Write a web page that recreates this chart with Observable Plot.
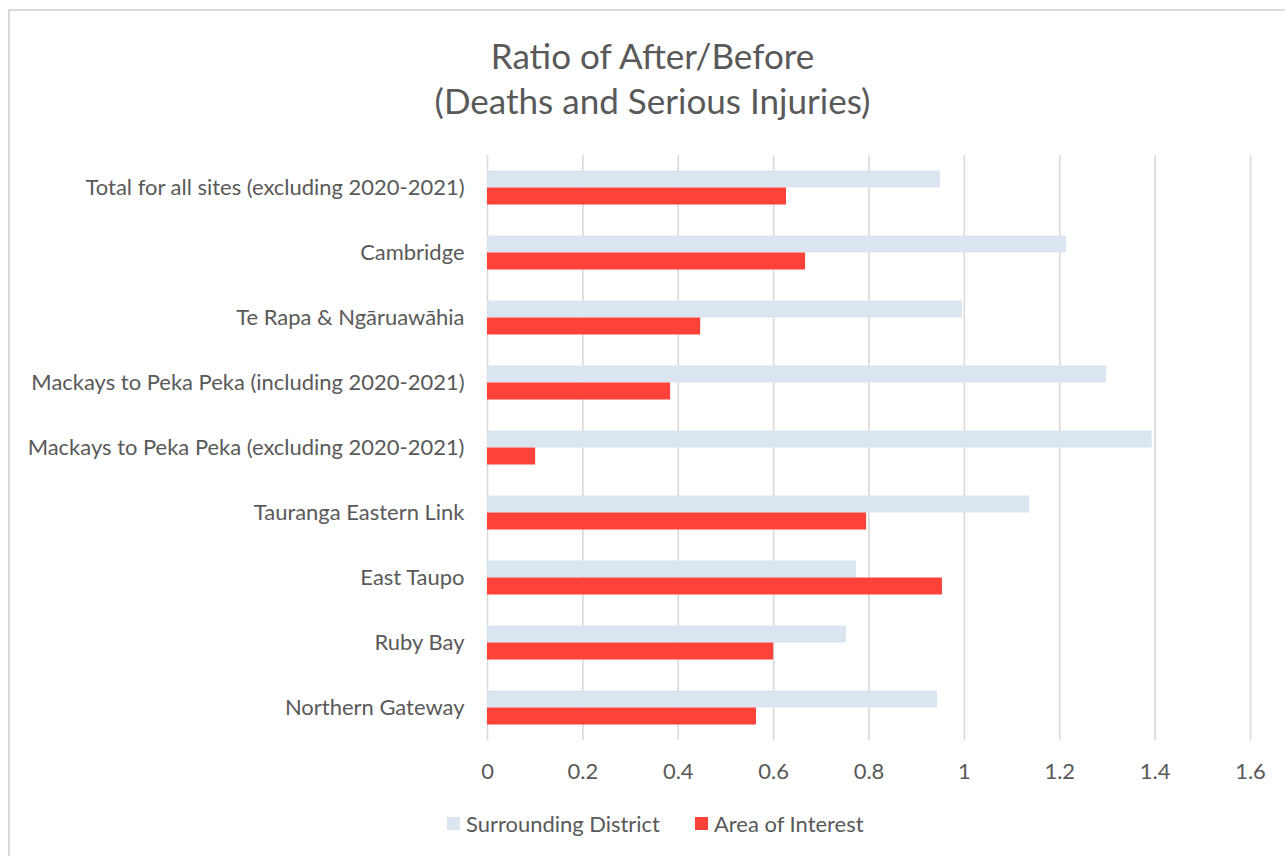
<!DOCTYPE html>
<html><head><meta charset="utf-8">
<script src="https://cdn.jsdelivr.net/npm/d3@7"></script>
<script src="https://cdn.jsdelivr.net/npm/@observablehq/plot@0.6"></script>
<style>
html,body{margin:0;padding:0;background:#fff;overflow:hidden;width:1285px;height:856px;}
#wrap{position:relative;width:1285px;height:856px;font-family:Lato,sans-serif;color:#595959;overflow:hidden;}
#frame{position:absolute;left:8px;top:9px;width:1320px;height:900px;border:2px solid #d9d9d9;box-sizing:border-box;}
#chart{position:absolute;left:0;top:0;}
#title{position:absolute;left:9px;width:1287px;top:33px;text-align:center;line-height:45px;}
#legend{position:absolute;left:0;top:810px;width:1285px;height:26px;}
.li{position:absolute;top:0;height:26px;display:flex;align-items:center;white-space:nowrap;}
.sw{width:13px;height:13px;margin-right:6px;display:inline-block;}
</style></head>
<body><div id="wrap"><div id="frame"></div><div id="chart"></div><div id="title"></div><div id="legend"></div></div>
<script>
const categories = [
  "Total for all sites (excluding 2020-2021)",
  "Cambridge",
  "Te Rapa & Ngāruawāhia",
  "Mackays to Peka Peka (including 2020-2021)",
  "Mackays to Peka Peka (excluding 2020-2021)",
  "Tauranga Eastern Link",
  "East Taupo",
  "Ruby Bay",
  "Northern Gateway"
];
const surroundingDistrict = [0.950, 1.214, 0.996, 1.298, 1.394, 1.137, 0.774, 0.753, 0.944];
const areaOfInterest      = [0.627, 0.667, 0.447, 0.384, 0.101, 0.795, 0.954, 0.600, 0.564];
const xTicks = [0, 0.2, 0.4, 0.6, 0.8, 1, 1.2, 1.4, 1.6];
const seriesNames = ["Surrounding District", "Area of Interest"];
const seriesColors = ["#dae5ef", "#fc4239"];
const titleLines = ["Ratio of After/Before", "(Deaths and Serious Injuries)"];

const FAMILY = "Lato";
const cv = document.createElement("canvas").getContext("2d");
function fit(text, w, weight = 400) {
  cv.font = `${weight} 100px ${FAMILY}`;
  return +(w / cv.measureText(text).width * 100).toFixed(2);
}
const labelSize = fit(categories[4], 437);
const titleSize = fit(titleLines[1], 436);

const rows = categories.map((c, i) => ({c, s: surroundingDistrict[i], a: areaOfInterest[i]}));

const plot = Plot.plot({
  width: 1285,
  height: 790,
  marginTop: 155,
  marginBottom: 50,
  marginLeft: 487,
  marginRight: 35,
  style: {fontFamily: FAMILY, fontSize: labelSize + "px", color: "#595959", background: "transparent"},
  x: {domain: [0, 1.6], label: null},
  y: {domain: categories, padding: 0, label: null},
  marks: [
    Plot.ruleX(xTicks, {stroke: "#d9d9d9", strokeWidth: 1.6}),
    Plot.barX(rows, {x: "s", y: "c", fill: seriesColors[0], insetTop: 15.5, insetBottom: 32.5}),
    Plot.barX(rows, {x: "a", y: "c", fill: seriesColors[1], insetTop: 32.5, insetBottom: 15.5}),
    Plot.axisX({ticks: xTicks, tickSize: 0, tickPadding: 23, label: null, tickFormat: d => `${+d.toFixed(1)}`, fill: "#595959"}),
    Plot.axisY({tickSize: 0, tickPadding: 23, label: null, fill: "#595959"})
  ]
});
document.getElementById("chart").appendChild(plot);

const t = document.getElementById("title");
t.style.fontSize = titleSize + "px";
t.innerHTML = titleLines.map(l => `<div>${l}</div>`).join("");

const lg = document.getElementById("legend");
const lefts = [447, 695];
seriesNames.forEach((n, i) => {
  const d = document.createElement("div");
  d.className = "li";
  d.style.left = lefts[i] + "px";
  d.style.fontSize = labelSize + "px";
  d.innerHTML = `<span class="sw" style="background:${seriesColors[i]}"></span><span>${n}</span>`;
  lg.appendChild(d);
});
</script></body></html>
